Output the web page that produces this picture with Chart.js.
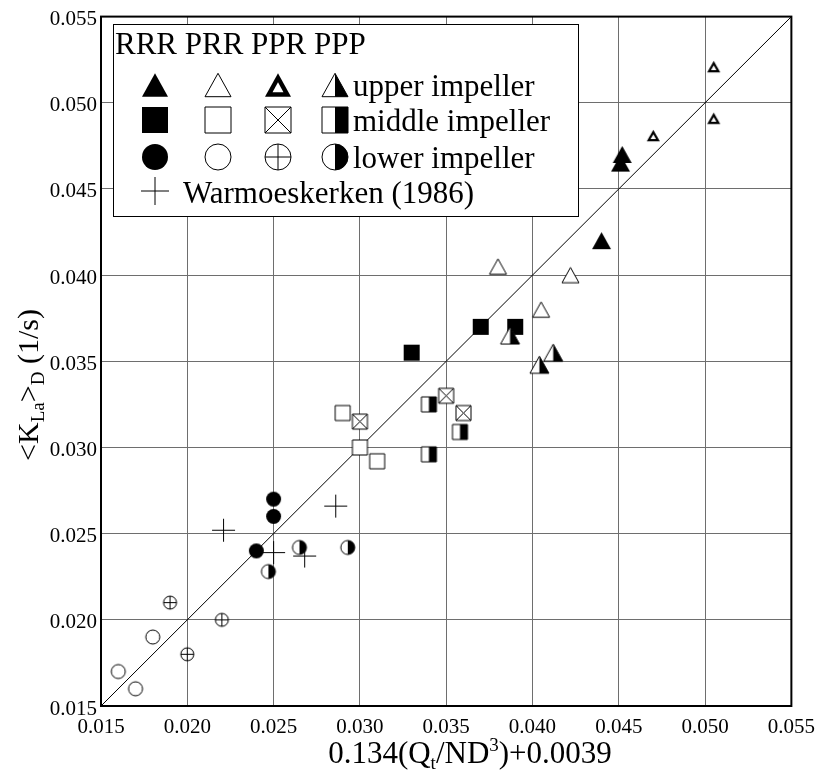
<!DOCTYPE html>
<html>
<head>
<meta charset="utf-8">
<script src="https://cdn.jsdelivr.net/npm/chart.js@4.4.1/dist/chart.umd.min.js"></script>
<style>
  html, body { margin: 0; padding: 0; background: #fff; }
  #wrap { width: 824px; height: 771px; }
</style>
</head>
<body>
<div id="wrap"><canvas id="kla" width="824" height="771"></canvas></div>
<script>
// ── Data: [x, y] pairs per configuration ──
// upper impeller
const upperRRR = [[0.0452, 0.0470], [0.0451, 0.0465], [0.0440, 0.0420]];
const upperPRR = [[0.0380, 0.0405], [0.0422, 0.0400], [0.0405, 0.0380]];
const upperPPR = [[0.0505, 0.0521], [0.0505, 0.0491], [0.0470, 0.0481]];
const upperPPP = [[0.0387, 0.0365], [0.0412, 0.0355], [0.0404, 0.0348]];
// middle impeller
const middleRRR = [[0.0330, 0.0355], [0.0370, 0.0370], [0.0390, 0.0370]];
const middlePRR = [[0.0290, 0.0320], [0.0300, 0.0300], [0.0310, 0.0292]];
const middlePPR = [[0.0350, 0.0330], [0.0360, 0.0320], [0.0300, 0.0315]];
const middlePPP = [[0.0340, 0.0325], [0.0358, 0.0309], [0.0340, 0.0296]];
// lower impeller
const lowerRRR = [[0.0250, 0.0270], [0.0250, 0.0260], [0.0240, 0.0240]];
const lowerPRR = [[0.0180, 0.0190], [0.0160, 0.0170], [0.0170, 0.0160]];
const lowerPPR = [[0.0190, 0.0210], [0.0220, 0.0200], [0.0200, 0.0180]];
const lowerPPP = [[0.0247, 0.0228], [0.0265, 0.0242], [0.0293, 0.0242]];
// Warmoeskerken (1986)
const warmoeskerken = [[0.0221, 0.0252], [0.0286, 0.0266], [0.0250, 0.0239], [0.0268, 0.0237]];

// 1:1 reference line
const parityLine = [[0.015, 0.015], [0.055, 0.055]];

// Axis range and tick step (both axes)
const axisMin = 0.015;
const axisMax = 0.055;
const axisStep = 0.005;

// Legend texts
const legendHeader = 'RRR PRR PPR PPP';
const legendRows = ['upper impeller', 'middle impeller', 'lower impeller'];
const legendRef = 'Warmoeskerken (1986)';

const SERIF = "'Liberation Serif', 'Times New Roman', serif";

// Serif everywhere, tick labels included
Chart.defaults.font.family = SERIF;
Chart.defaults.font.size = 21;
Chart.defaults.color = '#000';


// ── Marker drawing ───────────────────────────────────────────
// shape: triangle | square | circle | plus
// style: filled | open | bold | cross | half
function drawMarker(ctx, shape, style, cx, cy, s) {
    const h = s / 2;
    ctx.save();
    ctx.strokeStyle = '#000';
    ctx.lineWidth = 1;

    if (shape === 'triangle') {
        const ht = s * 0.9;
        const top = cy - ht / 2, base = cy + ht / 2;
        const tri = () => {
            ctx.beginPath();
            ctx.moveTo(cx, top);
            ctx.lineTo(cx + h, base);
            ctx.lineTo(cx - h, base);
            ctx.closePath();
        };
        if (style === 'filled') {
            tri(); ctx.fillStyle = '#000'; ctx.fill();
        } else if (style === 'open') {
            tri(); ctx.fillStyle = '#fff'; ctx.fill(); ctx.stroke();
        } else if (style === 'bold') {
            tri(); ctx.fillStyle = '#000'; ctx.fill();
            const k = 0.42, gy = cy + ht / 6;
            ctx.beginPath();
            ctx.moveTo(cx, gy - ht * 2 / 3 * k);
            ctx.lineTo(cx + h * k, gy + ht / 3 * k);
            ctx.lineTo(cx - h * k, gy + ht / 3 * k);
            ctx.closePath();
            ctx.fillStyle = '#fff'; ctx.fill();
        } else if (style === 'half') {
            tri(); ctx.fillStyle = '#fff'; ctx.fill();
            ctx.beginPath();
            ctx.moveTo(cx, top); ctx.lineTo(cx + h, base); ctx.lineTo(cx, base);
            ctx.closePath();
            ctx.fillStyle = '#000'; ctx.fill();
            tri(); ctx.stroke();
        }
    } else if (shape === 'square') {
        const sq = () => { ctx.beginPath(); ctx.rect(cx - h, cy - h, s, s); };
        if (style === 'filled') {
            sq(); ctx.fillStyle = '#000'; ctx.fill();
        } else {
            sq(); ctx.fillStyle = '#fff'; ctx.fill();
            if (style === 'half') {
                ctx.fillStyle = '#000';
                ctx.fillRect(cx, cy - h, h, s);
            }
            if (style === 'cross') {
                ctx.beginPath();
                ctx.moveTo(cx - h, cy - h); ctx.lineTo(cx + h, cy + h);
                ctx.moveTo(cx + h, cy - h); ctx.lineTo(cx - h, cy + h);
                ctx.stroke();
            }
            sq(); ctx.stroke();
        }
    } else if (shape === 'circle') {
        const circ = () => { ctx.beginPath(); ctx.arc(cx, cy, h, 0, Math.PI * 2); };
        if (style === 'filled') {
            circ(); ctx.fillStyle = '#000'; ctx.fill();
        } else {
            circ(); ctx.fillStyle = '#fff'; ctx.fill();
            if (style === 'half') {
                ctx.beginPath();
                ctx.arc(cx, cy, h, -Math.PI / 2, Math.PI / 2);
                ctx.closePath();
                ctx.fillStyle = '#000'; ctx.fill();
            }
            if (style === 'cross') {
                ctx.beginPath();
                ctx.moveTo(cx - h, cy); ctx.lineTo(cx + h, cy);
                ctx.moveTo(cx, cy - h); ctx.lineTo(cx, cy + h);
                ctx.stroke();
            }
            circ(); ctx.stroke();
        }
    } else if (shape === 'plus') {
        ctx.beginPath();
        ctx.moveTo(cx - h, cy); ctx.lineTo(cx + h, cy);
        ctx.moveTo(cx, cy - h); ctx.lineTo(cx, cy + h);
        ctx.stroke();
    }
    ctx.restore();
}

// Build an offscreen canvas to use as a Chart.js pointStyle
function markerImage(shape, style, s) {
    const c = document.createElement('canvas');
    const n = Math.ceil(s) + 4;
    c.width = n; c.height = n;
    drawMarker(c.getContext('2d'), shape, style, n / 2, n / 2, s);
    return c;
}

const toXY = arr => arr.map(p => ({ x: p[0], y: p[1] }));

function series(label, pts, shape, style, size) {
    return {
        label: label,
        data: toXY(pts),
        pointStyle: markerImage(shape, style, size),
        showLine: false,
        order: 1
    };
}


// ── Legend box (drawn on top of the grid) ────────────────────
const legendPlugin = {
    id: 'boxLegend',
    afterDraw(chart) {
        const ctx = chart.ctx;
        ctx.save();
        ctx.fillStyle = '#fff';
        ctx.fillRect(113, 24, 465, 192);
        ctx.strokeStyle = '#000';
        ctx.lineWidth = 1;
        ctx.strokeRect(113.5, 24.5, 465, 192);

        ctx.fillStyle = '#000';
        ctx.font = '31px ' + SERIF;
        ctx.textBaseline = 'alphabetic';
        ctx.textAlign = 'left';
        ctx.fillText(legendHeader, 115, 54);

        const cols = [155, 218, 278, 335];
        const rows = [85, 120, 157, 191];
        const styles = ['filled', 'open', 'bold', 'half'];
        const shapes = ['triangle', 'square', 'circle'];
        shapes.forEach((shape, r) => {
            styles.forEach((st, c) => {
                let style = st;
                if (st === 'bold' && shape !== 'triangle') style = 'cross';
                drawMarker(ctx, shape, style, cols[c], rows[r], 26);
            });
            ctx.fillText(legendRows[r], 353, rows[r] + 11);
        });
        drawMarker(ctx, 'plus', 'open', cols[0], rows[3], 28);
        ctx.fillText(legendRef, 183, rows[3] + 12);
        ctx.restore();
    }
};


// ── Frame + axis titles with sub/superscripts ────────────────
function drawRich(ctx, parts, size) {
    let w = 0;
    parts.forEach(p => {
        ctx.font = (p.sub || p.sup ? Math.round(size * 0.62) : size) + 'px ' + SERIF;
        p.w = ctx.measureText(p.t).width;
        w += p.w;
    });
    let x = -w / 2;
    parts.forEach(p => {
        ctx.font = (p.sub || p.sup ? Math.round(size * 0.62) : size) + 'px ' + SERIF;
        const dy = p.sub ? size * 0.2 : (p.sup ? -size * 0.38 : 0);
        ctx.fillText(p.t, x, dy);
        x += p.w;
    });
}

const framePlugin = {
    id: 'frameTitles',
    beforeDatasetsDraw(chart) {
        const { ctx, chartArea: a } = chart;
        ctx.save();
        ctx.strokeStyle = '#000';
        ctx.lineWidth = 2;
        ctx.strokeRect(a.left, a.top, a.right - a.left, a.bottom - a.top);
        ctx.restore();
    },
    afterDraw(chart) {
        const ctx = chart.ctx;
        ctx.save();
        ctx.fillStyle = '#000';
        ctx.textAlign = 'left';
        ctx.textBaseline = 'alphabetic';

        // x axis title
        ctx.save();
        ctx.translate(470, 763);
        drawRich(ctx, [
            { t: '0.134(Q' }, { t: 't', sub: true }, { t: '/ND' },
            { t: '3', sup: true }, { t: ')+0.0039' }
        ], 31);
        ctx.restore();

        // y axis title
        ctx.save();
        ctx.translate(38, 385);
        ctx.rotate(-Math.PI / 2);
        drawRich(ctx, [
            { t: '<K' }, { t: 'La', sub: true }, { t: '>' },
            { t: 'D', sub: true }, { t: ' (1/s)' }
        ], 30);
        ctx.restore();

        ctx.restore();
    }
};


// ── Chart ────────────────────────────────────────────────────
const datasets = [
    series('upper RRR', upperRRR, 'triangle', 'filled', 19),
    series('upper PRR', upperPRR, 'triangle', 'open', 17),
    series('upper PPR', upperPPR, 'triangle', 'bold', 13),
    series('upper PPP', upperPPP, 'triangle', 'half', 19),
    series('middle RRR', middleRRR, 'square', 'filled', 16),
    series('middle PRR', middlePRR, 'square', 'open', 15),
    series('middle PPR', middlePPR, 'square', 'cross', 15),
    series('middle PPP', middlePPP, 'square', 'half', 15),
    series('lower RRR', lowerRRR, 'circle', 'filled', 15),
    series('lower PRR', lowerPRR, 'circle', 'open', 14),
    series('lower PPR', lowerPPR, 'circle', 'cross', 13),
    series('lower PPP', lowerPPP, 'circle', 'half', 14),
    series('Warmoeskerken (1986)', warmoeskerken, 'plus', 'open', 23),
    {
        label: 'y = x',
        data: toXY(parityLine),
        showLine: true,
        pointRadius: 0,
        borderColor: '#000',
        borderWidth: 1,
        order: 10
    }
];

const axis = (pos) => ({
    type: 'linear',
    position: pos,
    min: axisMin,
    max: axisMax,
    grid: { color: '#6e6e6e', lineWidth: 1, drawTicks: false },
    border: { display: false },
    ticks: {
        stepSize: axisStep,
        color: '#000',
        font: { family: SERIF, size: 21 },
        padding: pos === 'bottom' ? 9 : 4,
        labelOffset: pos === 'left' ? 3 : 0,
        callback: v => v.toFixed(3),
        maxRotation: 0,
        autoSkip: false
    },
    afterFit(scale) {
        if (pos === 'left') scale.width = 101;
        else scale.height = 65;
    }
});

new Chart(document.getElementById('kla'), {
    type: 'scatter',
    data: { datasets: datasets },
    options: {
        responsive: false,
        animation: false,
        devicePixelRatio: 1,
        layout: { padding: { top: 13, right: 29, left: 0, bottom: 0 } },
        plugins: {
            legend: { display: false },
            tooltip: { enabled: false }
        },
        scales: {
            x: axis('bottom'),
            y: axis('left')
        }
    },
    plugins: [framePlugin, legendPlugin]
});
</script>
</body>
</html>
